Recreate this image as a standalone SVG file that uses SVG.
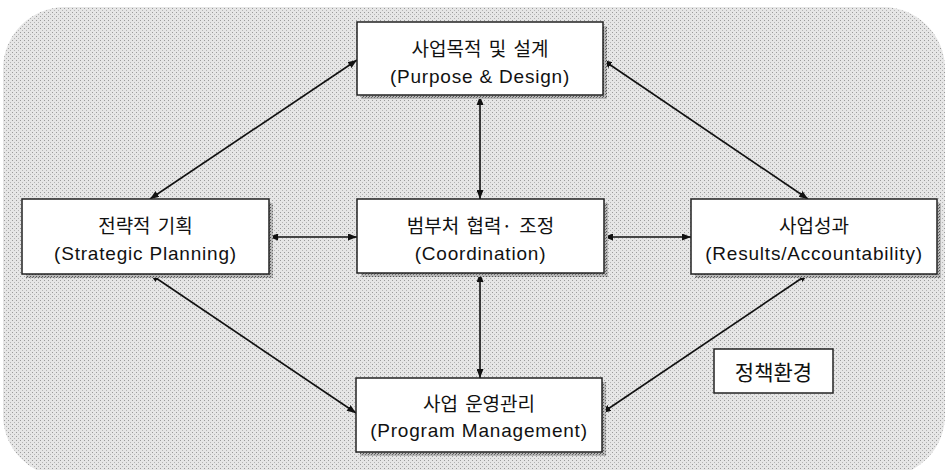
<svg xmlns="http://www.w3.org/2000/svg" width="948" height="470" viewBox="0 0 948 470">
<defs>
<pattern id="bg" width="4" height="4" patternUnits="userSpaceOnUse">
<rect width="4" height="4" fill="#e6e6e6"/>
<rect x="0" y="0" width="1" height="1" fill="#9a9a9a"/>
<rect x="2" y="2" width="1" height="1" fill="#b4b4b4"/>
</pattern>
<pattern id="sh" width="3" height="3" patternUnits="userSpaceOnUse">
<rect width="3" height="3" fill="#b8b8b8"/>
<rect x="0" y="0" width="1" height="1" fill="#555"/>
<rect x="2" y="1" width="1" height="1" fill="#6a6a6a"/>
</pattern>
<marker id="ah" viewBox="0 0 9 7" refX="9" refY="3.5" markerWidth="9" markerHeight="7" markerUnits="userSpaceOnUse" orient="auto-start-reverse">
<path d="M0,0 L9,3.5 L0,7 z" fill="#111"/>
</marker>
</defs>
<style>
.box{fill:#fff;stroke:#222;stroke-width:1.5}
.shadow{fill:url(#sh)}
.ko{font-family:"Noto Sans CJK KR","Noto Sans",sans-serif;font-size:19px;word-spacing:3px;fill:#111;text-anchor:middle}
.en{font-family:"Liberation Sans",Arial,sans-serif;font-size:19px;letter-spacing:0.8px;fill:#111;text-anchor:middle}
.con{stroke:#111;stroke-width:1.6;fill:none;marker-start:url(#ah);marker-end:url(#ah)}
</style>
<rect x="3" y="7" width="942" height="470" rx="62" ry="62" fill="url(#bg)"/>

<g id="connectors">
<line class="con" x1="150" y1="199" x2="357" y2="60"/>
<line class="con" x1="603" y1="60" x2="808" y2="199"/>
<line class="con" x1="480" y1="96" x2="480" y2="199"/>
<line class="con" x1="269" y1="237" x2="357" y2="237"/>
<line class="con" x1="604" y1="237" x2="691" y2="237"/>
<line class="con" x1="480" y1="273" x2="480" y2="378"/>
<line class="con" x1="150" y1="274" x2="356" y2="413"/>
<line class="con" x1="808" y1="274" x2="602" y2="413"/>
</g>

<g id="purpose">
<rect class="shadow" x="361" y="26" width="246" height="73"/>
<rect class="box" x="357" y="22" width="246" height="73"/>
<text class="ko" x="480" y="56">사업목적 및 설계</text>
<text class="en" x="480" y="83">(Purpose &amp; Design)</text>
</g>

<g id="strategic">
<rect class="shadow" x="26" y="203" width="247" height="75"/>
<rect class="box" x="22" y="199" width="247" height="75"/>
<text class="ko" x="145.5" y="233">전략적 기획</text>
<text class="en" x="145.5" y="260">(Strategic Planning)</text>
</g>

<g id="coordination">
<rect class="shadow" x="361" y="203" width="247" height="74"/>
<rect class="box" x="357" y="199" width="247" height="74"/>
<text class="ko" x="480.5" y="233">범부처 협력· 조정</text>
<text class="en" x="480.5" y="260">(Coordination)</text>
</g>

<g id="results">
<rect class="shadow" x="695" y="203" width="246" height="75"/>
<rect class="box" x="691" y="199" width="246" height="75"/>
<text class="ko" x="814" y="233">사업성과</text>
<text class="en" x="814" y="260">(Results/Accountability)</text>
</g>

<g id="program">
<rect class="shadow" x="360" y="382" width="246" height="74"/>
<rect class="box" x="356" y="378" width="246" height="74"/>
<text class="ko" x="479" y="411">사업 운영관리</text>
<text class="en" x="479" y="437">(Program Management)</text>
</g>

<g id="environment">
<rect class="box" x="714" y="349" width="119" height="44"/>
<text class="ko" x="773.5" y="380" style="font-size:21px">정책환경</text>
</g>
</svg>
